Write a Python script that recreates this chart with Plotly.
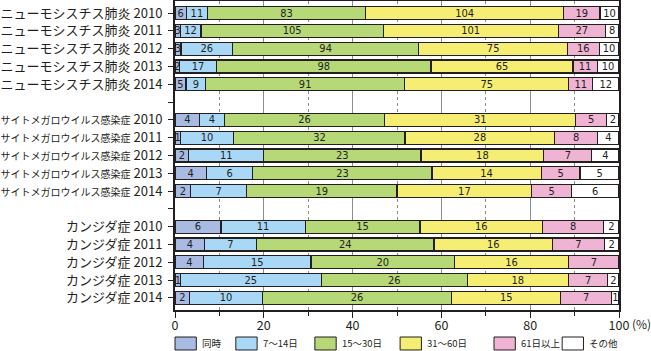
import plotly.graph_objects as go

series_names = ["同時", "7～14日", "15～30日", "31～60日", "61日以上", "その他"]
series_colors = ["#a9bbe2", "#a8d8f5", "#b7d877", "#f6ee72", "#efb3d3", "#ffffff"]

categories = [
    "ニューモシスチス肺炎 2010", "ニューモシスチス肺炎 2011", "ニューモシスチス肺炎 2012",
    "ニューモシスチス肺炎 2013", "ニューモシスチス肺炎 2014",
    " ",
    "サイトメガロウイルス感染症 2010", "サイトメガロウイルス感染症 2011", "サイトメガロウイルス感染症 2012",
    "サイトメガロウイルス感染症 2013", "サイトメガロウイルス感染症 2014",
    "  ",
    "カンジダ症 2010", "カンジダ症 2011", "カンジダ症 2012", "カンジダ症 2013", "カンジダ症 2014",
]

bar_rows = [c for c in categories if c.strip()]

# counts per row, in series order
simultaneous = [6, 3, 3, 2, 5, 4, 1, 2, 4, 2, 6, 4, 4, 1, 2]
days_7_14 = [11, 12, 26, 17, 9, 4, 10, 11, 6, 7, 11, 7, 15, 25, 10]
days_15_30 = [83, 105, 94, 98, 91, 26, 32, 23, 23, 19, 15, 24, 20, 26, 26]
days_31_60 = [104, 101, 75, 65, 75, 31, 28, 18, 14, 17, 16, 16, 16, 18, 15]
days_61_plus = [19, 27, 16, 11, 11, 5, 8, 7, 5, 5, 8, 7, 7, 7, 7]
other = [10, 8, 10, 10, 12, 2, 4, 4, 5, 6, 2, 2, 0, 2, 1]

series_values = [simultaneous, days_7_14, days_15_30, days_31_60, days_61_plus, other]
totals = [sum(s[i] for s in series_values) for i in range(len(bar_rows))]

x_ticks = [0, 20, 40, 60, 80, 100]

DARK = "#231f20"


def tick_label(c):
    if "サイトメガロ" in c:
        name, year = c.rsplit(" ", 1)
        return '<span style="font-size:10px">' + name + '</span> ' + year
    return c


fig = go.Figure()
for name, color, vals in zip(series_names, series_colors, series_values):
    pct = [v / t * 100 for v, t in zip(vals, totals)]
    fig.add_trace(go.Bar(
        y=bar_rows, x=pct, name=name, orientation="h",
        marker=dict(color=color, line=dict(color=DARK, width=1.2)),
        text=[str(v) if v > 0 else "" for v in vals],
        textposition="inside", insidetextanchor="middle", textangle=0,
        constraintext="none",
        textfont=dict(family="Liberation Sans Narrow, DejaVu Sans Condensed, Arial Narrow, sans-serif",
                      size=11, color=DARK),
        width=0.73, showlegend=False, hoverinfo="skip",
    ))

fig.update_layout(
    barmode="stack", width=651, height=351,
    margin=dict(l=175, r=32, t=1, b=41, autoexpand=False),
    paper_bgcolor="white", plot_bgcolor="white",
    font=dict(family="Noto Sans CJK JP, sans-serif", color=DARK),
)
fig.update_xaxes(
    range=[0, 100], tickvals=x_ticks, ticktext=[str(t) for t in x_ticks],
    showgrid=True, gridcolor="#8c8c8c", gridwidth=1,
    minor=dict(dtick=10, tick0=0, showgrid=True, gridcolor="#8c8c8c", griddash="3px,3px",
               ticks="outside", ticklen=4, tickcolor=DARK, tickwidth=1),
    ticks="outside", ticklen=6, tickcolor=DARK, tickwidth=1,
    showline=True, linecolor=DARK, linewidth=2, mirror=True,
    zeroline=False, tickfont=dict(size=12.5, color=DARK), automargin=False,
    ticklabelstandoff=-3,
)
fig.update_yaxes(
    type="category", categoryorder="array", categoryarray=categories,
    tickmode="array", tickvals=categories, ticktext=[tick_label(c) for c in categories],
    range=[len(categories) - 1 + 0.68, -0.68],
    ticks="outside", ticklen=5, tickcolor=DARK, tickwidth=1,
    showline=True, linecolor=DARK, linewidth=2, mirror=True,
    showgrid=False, tickfont=dict(size=13, color=DARK), ticklabelstandoff=3,
    automargin=False,
)

fig.add_annotation(text="(%)", xref="paper", yref="paper", x=1.0248, xanchor="left",
                   y=-0.0437, yanchor="middle", showarrow=False, font=dict(size=12, color=DARK))

# legend drawn as swatches + labels
sw_x0 = [0.0, 0.137, 0.315, 0.507, 0.7185, 0.872]
sw_w = 0.048
for x0, name, color in zip(sw_x0, series_names, series_colors):
    fig.add_shape(type="rect", xref="paper", yref="paper", x0=x0, x1=x0 + sw_w,
                  y0=-0.1294, y1=-0.0874, fillcolor=color, line=dict(color=DARK, width=1))
    fig.add_annotation(text=name, xref="paper", yref="paper", x=x0 + sw_w + 0.008, y=-0.1084,
                       xanchor="left", yanchor="middle", showarrow=False,
                       font=dict(size=9.5, color=DARK))

fig.write_html("out.html")
